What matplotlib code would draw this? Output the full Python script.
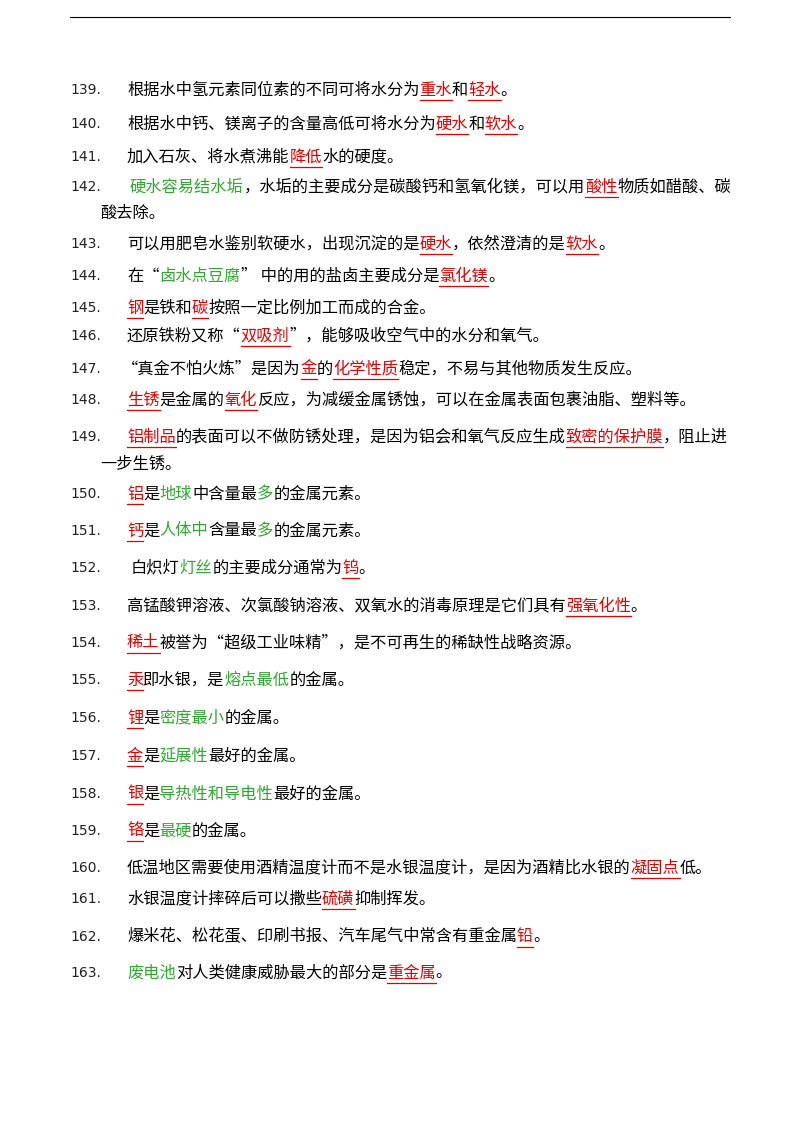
import re
import matplotlib
matplotlib.use("Agg")
import matplotlib.pyplot as plt

plt.rcParams['font.family'] = ['Noto Sans CJK SC', 'DejaVu Sans']

numbers = ["139.", "140.", "141.", "142.", "", "143.", "144.", "145.", "146.", "147.", "148.",
           "149.", "", "150.", "151.", "152.", "153.", "154.", "155.", "156.", "157.", "158.",
           "159.", "160.", "161.", "162.", "163."]
texts = [
    "根据水中氢元素同位素的不同可将水分为[重水]和[轻水]。",
    "根据水中钙、镁离子的含量高低可将水分为[硬水]和[软水]。",
    "加入石灰、将水煮沸能[降低]水的硬度。",
    "{硬水容易结水垢}，水垢的主要成分是碳酸钙和氢氧化镁，可以用[酸性]物质如醋酸、碳",
    "酸去除。",
    "可以用肥皂水鉴别软硬水，出现沉淀的是[硬水]，依然澄清的是[软水]。",
    "在“{卤水点豆腐}” 中的用的盐卤主要成分是[氯化镁]。",
    "[钢]是铁和[碳]按照一定比例加工而成的合金。",
    "还原铁粉又称“[双吸剂]”，能够吸收空气中的水分和氧气。",
    "“真金不怕火炼”是因为[金]的[化学性质]稳定，不易与其他物质发生反应。",
    "[生锈]是金属的[氧化]反应，为减缓金属锈蚀，可以在金属表面包裹油脂、塑料等。",
    "[铝制品]的表面可以不做防锈处理，是因为铝会和氧气反应生成[致密的保护膜]，阻止进",
    "一步生锈。",
    "[铝]是{地球}中含量最{多}的金属元素。",
    "[钙]是{人体中}含量最{多}的金属元素。",
    "白炽灯{灯丝}的主要成分通常为[钨]。",
    "高锰酸钾溶液、次氯酸钠溶液、双氧水的消毒原理是它们具有[强氧化性]。",
    "[稀土]被誉为“超级工业味精”，是不可再生的稀缺性战略资源。",
    "[汞]即水银，是{熔点最低}的金属。",
    "[锂]是{密度最小}的金属。",
    "[金]是{延展性}最好的金属。",
    "[银]是{导热性和导电性}最好的金属。",
    "[铬]是{最硬}的金属。",
    "低温地区需要使用酒精温度计而不是水银温度计，是因为酒精比水银的[凝固点]低。",
    "水银温度计摔碎后可以撒些[硫磺]抑制挥发。",
    "爆米花、松花蛋、印刷书报、汽车尾气中常含有重金属[铅]。",
    "{废电池}对人类健康威胁最大的部分是[重金属]。",
]
ys = [90, 124, 157, 187, 213, 244, 276, 308, 336, 369, 400, 437, 464, 494, 531, 568, 606,
      643, 680, 718, 756, 794, 831, 868, 899, 937, 973]
xs = [127, 127, 127, 130, 100, 127, 127, 127, 127, 122, 127, 127, 100, 127, 127, 131, 127,
      127, 127, 127, 127, 127, 127, 127, 127, 127, 127]

RED = "#e60000"
GREEN = "#2eaa2e"

fig = plt.figure(figsize=(8, 11.32), dpi=100)
ax = fig.add_axes([0, 0, 1, 1])
ax.set_xlim(0, 800)
ax.set_ylim(1132, 0)
ax.axis("off")
ax.plot([70, 730], [17, 17], color="black", lw=0.8)

renderer = fig.canvas.get_renderer()
fs = 11.7
for num, txt, y, x0 in zip(numbers, texts, ys, xs):
    if num:
        ax.text(70, y, num, fontsize=10, va="center", ha="left", color="#222222",
                family=['DejaVu Sans'])
    parts = re.split(r"(\[[^\]]*\]|\{[^}]*\})", txt)
    x = x0
    for p in parts:
        if not p:
            continue
        color = "black"
        under = False
        if p.startswith("["):
            p = p[1:-1]; color = RED; under = True
        elif p.startswith("{"):
            p = p[1:-1]; color = GREEN
        t = ax.text(x, y, p, fontsize=fs, va="center", ha="left", color=color)
        bb = t.get_window_extent(renderer=renderer)
        w = bb.width
        if under:
            ax.plot([x, x + w], [y + 9.5, y + 9.5], color=RED, lw=0.9)
        x += w

fig.savefig("out.png", dpi=100)
